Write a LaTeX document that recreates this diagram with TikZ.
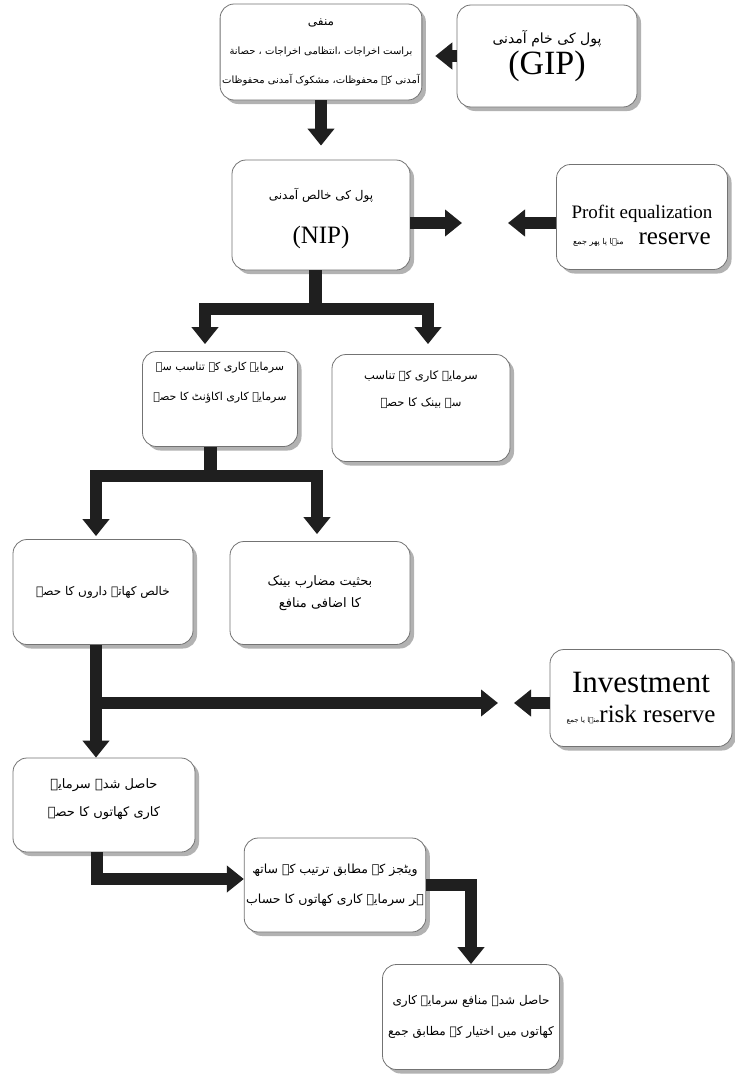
\documentclass[tikz,border=0pt]{standalone}
\usepackage{fontspec}
\setmainfont{Liberation Serif}
\newfontfamily\urdufont[Script=Arabic]{DejaVu Sans}
\TeXXeTstate=1
\usetikzlibrary{positioning,arrows.meta,shadows}
\newcommand{\ur}[1]{{\urdufont\beginR#1\endR}}
\newcommand{\setfs}[2]{\fontsize{#1}{#2}\selectfont}
\tikzset{
    flowbox/.style={draw=black!55, line width=0.8pt, rounded corners=14pt, fill=white,
        drop shadow={shadow xshift=4pt, shadow yshift=-4pt, fill=black!30, opacity=1},
        align=center, inner sep=2pt},
    fatarrow/.style={draw=black!88, line width=12pt, -{Triangle[width=26pt,length=17pt]}},
    fatfork/.style={draw=black!88, line width=12pt,
        {Triangle[width=26pt,length=17pt]}-{Triangle[width=26pt,length=17pt]}},
    fatline/.style={draw=black!88, line width=13pt}
}

\begin{document}
\begin{tikzpicture}[x=1pt,y=-1pt]
	\fill[white] (0,0) rectangle (735,1076);
	\useasboundingbox (0,0) rectangle (735,1076);
	% boxes
	\node[flowbox, minimum width=178pt, minimum height=96pt, font=\setfs{10}{29}] (deduct) at (321,52)
		{{\setfs{12}{29}\ur{منفی}}\\ \ur{براست اخراجات ،انتظامی اخراجات ، حصانة}\\ \ur{آمدنی کے محفوظات، مشکوک آمدنی محفوظات}};
	\node[flowbox, minimum width=180pt, minimum height=102pt, font=\setfs{14}{31}] (gip) at (547,56)
		{\ur{پول کی خام آمدنی}\\ {\rmfamily\setfs{34}{31}(GIP)}};
	\node[flowbox, minimum width=178pt, minimum height=110pt, font=\setfs{12}{44}] (nip) at (321,215)
		{\rule{0pt}{19pt}\ur{پول کی خالص آمدنی}\\ {\rmfamily\setfs{25}{44}(NIP)}};
	\node[flowbox, minimum width=171pt, minimum height=105pt, font=\setfs{19}{26}] (per) at (642,217)
		{\rule{0pt}{30pt}{\rmfamily Profit equalization}\\ {\setfs{8}{26}\ur{منہا یا پھر جمع}}\hspace{15pt}{\rmfamily\setfs{25}{26}reserve}};
	\node[flowbox, minimum width=155pt, minimum height=95pt, font=\setfs{11}{30}, text depth=36pt] (accshare) at (220,399)
		{\ur{سرمایہ کاری کے تناسب سے}\\ \ur{سرمایہ کاری اکاؤنٹ کا حصہ}};
	\node[flowbox, minimum width=178pt, minimum height=107pt, font=\setfs{11.5}{27}, text depth=38pt] (bankshare) at (421,408)
		{\ur{سرمایہ کاری کے تناسب}\\ \ur{سے بینک کا حصہ}};
	\node[flowbox, minimum width=180pt, minimum height=105pt, font=\setfs{12}{27}] (holders) at (103,592)
		{\ur{خالص کھاتہ داروں کا حصہ}};
	\node[flowbox, minimum width=180pt, minimum height=103pt, font=\setfs{13}{22}] (mudarib) at (320,593)
		{\ur{بحثیت مضارب بینک}\\ \ur{کا اضافی منافع}};
	\node[flowbox, minimum width=182pt, minimum height=97pt, font=\setfs{31}{30}] (irr) at (641,698)
		{{\rmfamily Investment}\\ {\setfs{7}{30}\ur{منہا یا جمع}}{\rmfamily\setfs{25}{30}risk reserve}};
	\node[flowbox, minimum width=182pt, minimum height=94pt, font=\setfs{13}{28}, text depth=14pt] (earned) at (104,805)
		{\ur{حاصل شدہ سرمایہ}\\ \ur{کاری کھاتوں کا حصہ}};
	\node[flowbox, minimum width=180pt, minimum height=94pt, font=\setfs{12.5}{30}] (weight) at (335,885)
		{\ur{ویٹجز کے مطابق ترتیب کے ساتھ}\\ \ur{ہر سرمایہ کاری کھاتوں کا حساب}};
	\node[flowbox, minimum width=177pt, minimum height=105pt, font=\setfs{12}{31}] (final) at (471,1017)
		{\ur{حاصل شدہ منافع سرمایہ کاری}\\ \ur{کھاتوں میں اختیار کے مطابق جمع}};
	% connectors
	\coordinate (nipout) at (462,223);
	\coordinate (perout) at (508,223);
	\coordinate (fork1) at (315,309);
	\coordinate (fork2) at (210,476);
	\coordinate (branch) at (96,703);
	\coordinate (holdout) at (498,703);
	\coordinate (irrout) at (514,703);
	\draw[fatarrow, shorten >=13pt] (gip.west) -- (gip.west -| deduct.east);
	\draw[fatarrow, shorten >=14pt] (deduct.south) -- (nip.north);
	\draw[fatarrow] (nip.east |- nipout) -- (nipout);
	\draw[fatarrow] (per.west |- perout) -- (perout);
	\draw[fatline] (nip.south -| fork1) -- (fork1);
	\draw[fatfork, shorten <=7pt, shorten >=10pt] ([xshift=-15pt]accshare.north) |- (fork1) -| ([xshift=7pt]bankshare.north);
	\draw[fatline] (accshare.south -| fork2) -- (fork2);
	\draw[fatfork, shorten <=3pt, shorten >=7pt] ([xshift=-7pt]holders.north) |- (fork2) -| ([xshift=-3pt]mudarib.north);
	\draw[fatarrow] (holders.south -| branch) -- (earned.north -| branch);
	\draw[fatarrow] (branch) -- (holdout);
	\draw[fatarrow] (irr.west |- irrout) -- (irrout);
	\draw[fatarrow] ([xshift=-7pt]earned.south) |- ([yshift=6pt]weight.west);
	\draw[fatarrow] (weight.east) -| (final.north);
\end{tikzpicture}
\end{document}
